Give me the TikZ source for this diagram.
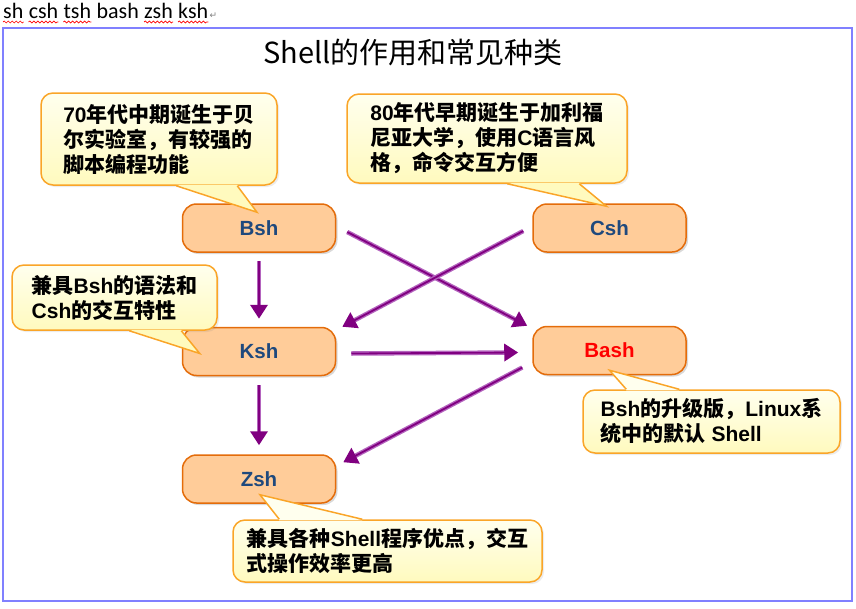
\documentclass[tikz,border=0pt]{standalone}
\usepackage{fontspec}
\setmainfont{Liberation Sans}
\newfontfamily\cjk{Noto Sans CJK SC}
\newfontfamily\wordfont{Carlito}
\newfontfamily\symfont{DejaVu Sans}
\usepackage{xcolor}
\usepackage{tikz}
\usetikzlibrary{arrows.meta, positioning, calc, shadows, decorations.pathmorphing}

\definecolor{boxfill}{RGB}{255,204,153}
\definecolor{boxline}{RGB}{228,108,10}
\definecolor{shelltext}{RGB}{31,73,125}
\definecolor{noteline}{RGB}{250,165,40}
\definecolor{notetop}{RGB}{255,255,238}
\definecolor{notebottom}{RGB}{255,250,190}
\definecolor{flowline}{RGB}{180,100,190}
\definecolor{flowtip}{RGB}{128,0,128}
\definecolor{framecolor}{RGB}{128,128,255}
\newcommand{\zh}[1]{{\cjk #1}}

\begin{document}
\begin{tikzpicture}[x=1pt, y=-1pt,
    shell/.style={draw=boxline, fill=boxfill, line width=1.5pt, rounded corners=14pt,
      minimum width=153pt, minimum height=48pt, text=shelltext,
      font=\bfseries\fontsize{20.5}{24}\selectfont,
      drop shadow={shadow xshift=2pt, shadow yshift=-2pt, opacity=.3}},
    note/.style={draw=noteline, line width=1.5pt, rounded corners=12pt,
      top color=notetop, bottom color=notebottom, align=left, inner sep=4pt,
      font=\bfseries\fontsize{21}{25}\selectfont,
      drop shadow={shadow xshift=2pt, shadow yshift=-2pt, opacity=.15}},
    tail/.style={draw=noteline, line width=1.5pt},
    flow/.style={draw=flowline, line width=4.5pt,
      -{Triangle[length=14pt, width=17pt, color=flowtip]},
      postaction={draw=flowtip, line width=1.8pt, -, shorten >=12pt}},
    word/.style={inner sep=0pt, font=\wordfont\fontsize{22}{26}\selectfont},
    squiggle/.style={draw=red, line width=.7pt, decorate,
      decoration={snake, amplitude=1pt, segment length=4pt}}]
  \useasboundingbox (0,0) rectangle (856,608);

  % words above the frame
  \node[word, anchor=base west] (wsh) at (3,18.5) {sh};
  \node[word, base right=5pt of wsh] (wcsh) {csh};
  \node[word, base right=5pt of wcsh] (wtsh) {tsh};
  \node[word, base right=5pt of wtsh] (wbash) {bash};
  \node[word, base right=5pt of wbash] (wzsh) {zsh};
  \node[word, base right=5pt of wzsh] (wksh) {ksh};
  \node[base right=1pt of wksh, inner sep=0pt, text=gray,
    font=\symfont\fontsize{9}{10}\selectfont] (ret) {↵};
  \foreach \w in {wsh, wcsh, wtsh, wzsh, wksh}
    \draw[squiggle] ([yshift=-3.5pt]\w.base west) -- ([yshift=-3.5pt]\w.base east);

  \draw[framecolor, line width=2.5pt] (3,28) rectangle (852,601);

  \node[font=\cjk\fontsize{29}{33}\selectfont] (title) at (413,52) {Shell的作用和常见种类};

  % the shells
  \node[shell] (bsh) at (259,228) {Bsh};
  \node[shell, right=196pt of bsh] (csh) {Csh};
  \node[shell, below=74pt of bsh] (ksh) {Ksh};
  \node[shell, below=73pt of csh, text=red] (bash) {Bash};
  \node[shell, below=78pt of ksh] (zsh) {Zsh};

  \draw[flow] ($(bsh.south)+(0,8)$) -- ($(ksh.north)+(0,-8)$);
  \draw[flow] ($(ksh.south)+(0,9)$) -- ($(zsh.north)+(0,-9)$);
  \draw[flow] ($(bsh.east)+(11,4)$) -- ($(bash.north west)+(-5,0)$);
  \draw[flow] ($(csh.west)+(-9,3)$) -- ($(ksh.north east)+(6,0)$);
  \draw[flow] ($(ksh.east)+(15,2)$) -- ($(bash.west)+(-14,2)$);
  \draw[flow] ($(bash.west)+(-10,17)$) -- ($(zsh.north east)+(7,8)$);

  % notes
  \node[note, minimum width=236pt, minimum height=92pt] (bshnote) at (159,139)
    {70\zh{年代中期诞生于贝}\\\zh{尔实验室，有较强的}\\\zh{脚本编程功能}};
  \node[note, minimum width=280pt, minimum height=89pt] (cshnote) at (487,138.5)
    {80\zh{年代早期诞生于加利福}\\\zh{尼亚大学，使用}C\zh{语言风}\\\zh{格，命令交互方便}};
  \node[note, minimum width=205pt, minimum height=65pt] (kshnote) at (114.5,297.5)
    {\zh{兼具}Bsh\zh{的语法和}\\Csh\zh{的交互特性}};
  \node[note, minimum width=257pt, minimum height=63pt] (bashnote) at (711.5,421.5)
    {Bsh\zh{的升级版，}Linux\zh{系}\\\zh{统中的默认} Shell};
  \node[note, minimum width=309pt, minimum height=62pt] (zshnote) at (387.5,551)
    {\zh{兼具各种}Shell\zh{程序优点，交互}\\\zh{式操作效率更高}};

  % tails
  \fill[notebottom] ($(bshnote.south west)+(136,-1)$) -- ($(bsh.north)+(-2,9)$) -- ($(bshnote.south west)+(197,-1)$) -- cycle;
  \draw[tail] ($(bshnote.south west)+(136,0)$) -- ($(bsh.north)+(-2,9)$) -- ($(bshnote.south west)+(197,0)$);
  \fill[notebottom] ($(cshnote.south west)+(161,-1)$) -- ($(csh.north)+(-3,3)$) -- ($(cshnote.south west)+(233,-1)$) -- cycle;
  \draw[tail] ($(cshnote.south west)+(161,0)$) -- ($(csh.north)+(-3,3)$) -- ($(cshnote.south west)+(233,0)$);
  \fill[notebottom] ($(kshnote.south west)+(118,-1)$) -- ($(ksh.west)+(18,2)$) -- ($(kshnote.south west)+(170,-1)$) -- cycle;
  \draw[tail] ($(kshnote.south west)+(118,0)$) -- ($(ksh.west)+(18,2)$) -- ($(kshnote.south west)+(170,0)$);
  \fill[notetop] ($(bashnote.north west)+(44,1)$) -- ($(bash.south)+(0,-5)$) -- ($(bashnote.north west)+(97,1)$) -- cycle;
  \draw[tail] ($(bashnote.north west)+(44,0)$) -- ($(bash.south)+(0,-5)$) -- ($(bashnote.north west)+(97,0)$);
  \fill[notetop] ($(zshnote.north west)+(47,1)$) -- ($(zsh.south)+(1,-9)$) -- ($(zshnote.north west)+(130,1)$) -- cycle;
  \draw[tail] ($(zshnote.north west)+(47,0)$) -- ($(zsh.south)+(1,-9)$) -- ($(zshnote.north west)+(130,0)$);
\end{tikzpicture}
\end{document}
